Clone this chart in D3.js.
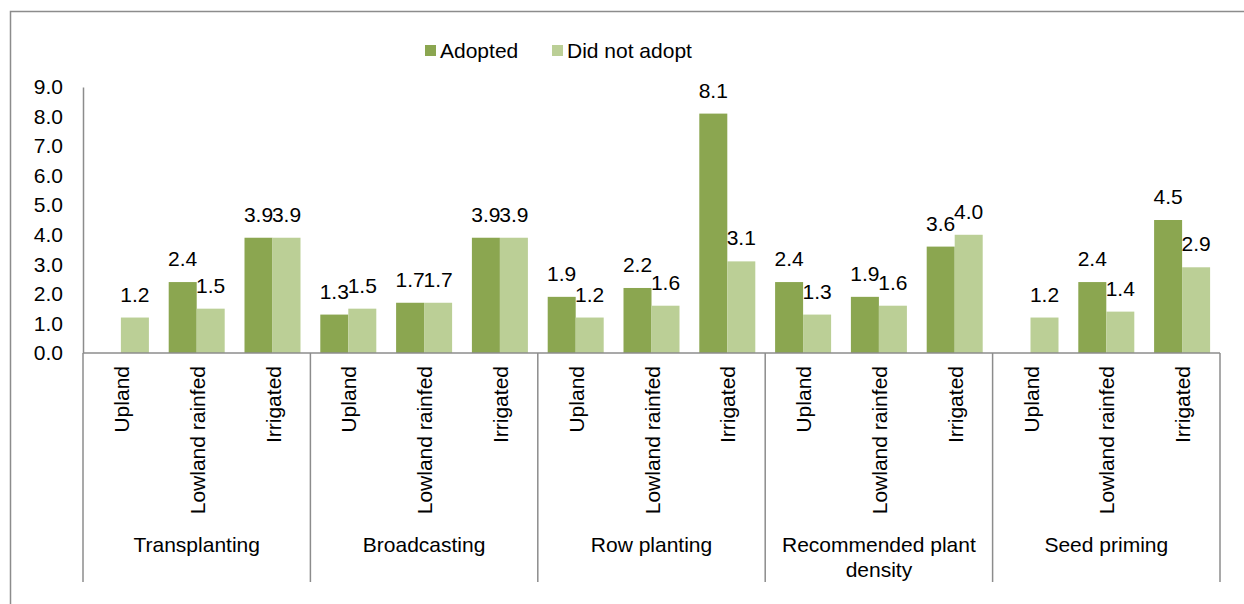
<!DOCTYPE html>
<html>
<head>
<meta charset="utf-8">
<script src="https://cdn.jsdelivr.net/npm/d3@7"></script>
<style>
  body { margin: 0; background: #fff; }
  svg { display: block; font-family: "Liberation Sans", Arial, sans-serif; }
</style>
</head>
<body>
<svg id="chart" width="1244" height="604"></svg>
<script>
// practices (outer categories) and ecologies (inner categories)
var practices = ["Transplanting", "Broadcasting", "Row planting", "Recommended plant density", "Seed priming"];
var ecologies = ["Upland", "Lowland rainfed", "Irrigated"];
var seriesNames = ["Adopted", "Did not adopt"];

// values per practice, in ecology order (null = no bar)
var adopted = [
  [null, 2.4, 3.9],
  [1.3, 1.7, 3.9],
  [1.9, 2.2, 8.1],
  [2.4, 1.9, 3.6],
  [null, 2.4, 4.5]
];
var notAdopted = [
  [1.2, 1.5, 3.9],
  [1.5, 1.7, 3.9],
  [1.2, 1.6, 3.1],
  [1.3, 1.6, 4.0],
  [1.2, 1.4, 2.9]
];
var yTicks = [0, 1, 2, 3, 4, 5, 6, 7, 8, 9];

var colors = { "Adopted": "#8ba650", "Did not adopt": "#bbcf96" };
var lineColor = "#8c8c8c";
var fs = 21;

var svg = d3.select("#chart");

// outer frame
svg.append("path")
  .attr("d", "M10.5,604 V11.5 H1244")
  .attr("fill", "none")
  .attr("stroke", lineColor)
  .attr("stroke-width", 1.5);

var plotL = 83, plotR = 1220, plotT = 87, plotB = 353;

var x0 = d3.scaleBand().domain(practices).range([plotL, plotR]);
var x1 = d3.scaleBand().domain(ecologies).range([0, x0.bandwidth()]);
var barW = 28;
var x2 = d3.scaleBand().domain(seriesNames).range([-barW, barW]);

var y = d3.scaleLinear().domain([0, 9]).range([plotB, plotT]);

// y axis
var yAxis = svg.append("g")
  .attr("transform", "translate(" + plotL + ",0)")
  .call(d3.axisLeft(y).tickValues(yTicks).tickSize(0).tickPadding(20).tickFormat(d3.format(".1f")));
yAxis.select(".domain").attr("stroke", lineColor).attr("stroke-width", 1.5);
yAxis.selectAll("text").attr("font-size", fs).attr("fill", "#000")
  .attr("font-family", "Liberation Sans, Arial, sans-serif");

// flatten data
var rows = [];
practices.forEach(function(p, i) {
  ecologies.forEach(function(e, j) {
    rows.push({ practice: p, ecology: e, series: "Adopted", value: adopted[i][j] });
    rows.push({ practice: p, ecology: e, series: "Did not adopt", value: notAdopted[i][j] });
  });
});
var shown = rows.filter(function(d) { return d.value != null; });

function cx(d) { return x0(d.practice) + x1(d.ecology) + x1.bandwidth() / 2; }

svg.append("g").selectAll("rect")
  .data(shown)
  .enter().append("rect")
    .attr("x", function(d) { return cx(d) + x2(d.series); })
    .attr("width", x2.bandwidth())
    .attr("y", function(d) { return y(d.value); })
    .attr("height", function(d) { return plotB - y(d.value); })
    .attr("fill", function(d) { return colors[d.series]; });

svg.append("g").selectAll("text")
  .data(shown)
  .enter().append("text")
    .attr("x", function(d) { return cx(d) + x2(d.series) + x2.bandwidth() / 2; })
    .attr("y", function(d) { return y(d.value) - 16; })
    .attr("text-anchor", "middle")
    .attr("font-size", fs)
    .text(function(d) { return d3.format(".1f")(d.value); });

// baseline
svg.append("line")
  .attr("x1", plotL).attr("x2", plotR)
  .attr("y1", plotB).attr("y2", plotB)
  .attr("stroke", lineColor).attr("stroke-width", 1.5);

// group dividers
var edges = practices.map(function(p) { return x0(p); }).concat([plotR]);
svg.append("g").selectAll("line")
  .data(edges)
  .enter().append("line")
    .attr("x1", function(d) { return d; }).attr("x2", function(d) { return d; })
    .attr("y1", plotB).attr("y2", 582)
    .attr("stroke", lineColor).attr("stroke-width", 1.5);

// inner category labels (rotated)
var inner = [];
practices.forEach(function(p) { ecologies.forEach(function(e) { inner.push({ practice: p, ecology: e }); }); });
svg.append("g").selectAll("text")
  .data(inner)
  .enter().append("text")
    .attr("transform", function(d) { return "translate(" + (cx(d) + 8) + ",366) rotate(-90)"; })
    .attr("text-anchor", "end")
    .attr("font-size", fs)
    .text(function(d) { return d.ecology; });

// outer category labels
var outerLines = {
  "Recommended plant density": ["Recommended plant", "density"]
};
practices.forEach(function(p) {
  var lines = outerLines[p] || [p];
  var t = svg.append("text")
    .attr("x", x0(p) + x0.bandwidth() / 2)
    .attr("y", 552)
    .attr("text-anchor", "middle")
    .attr("font-size", fs);
  lines.forEach(function(l, k) {
    t.append("tspan")
      .attr("x", x0(p) + x0.bandwidth() / 2)
      .attr("dy", k === 0 ? 0 : 25)
      .text(l);
  });
});

// legend
var legendX = [425, 552];
var legend = svg.append("g").selectAll("g")
  .data(seriesNames)
  .enter().append("g")
    .attr("transform", function(d, i) { return "translate(" + legendX[i] + ",45)"; });
legend.append("rect")
  .attr("width", 11).attr("height", 11)
  .attr("fill", function(d) { return colors[d]; });
legend.append("text")
  .attr("x", 15).attr("y", 13)
  .attr("font-size", fs)
  .text(function(d) { return d; });
</script>
</body>
</html>
